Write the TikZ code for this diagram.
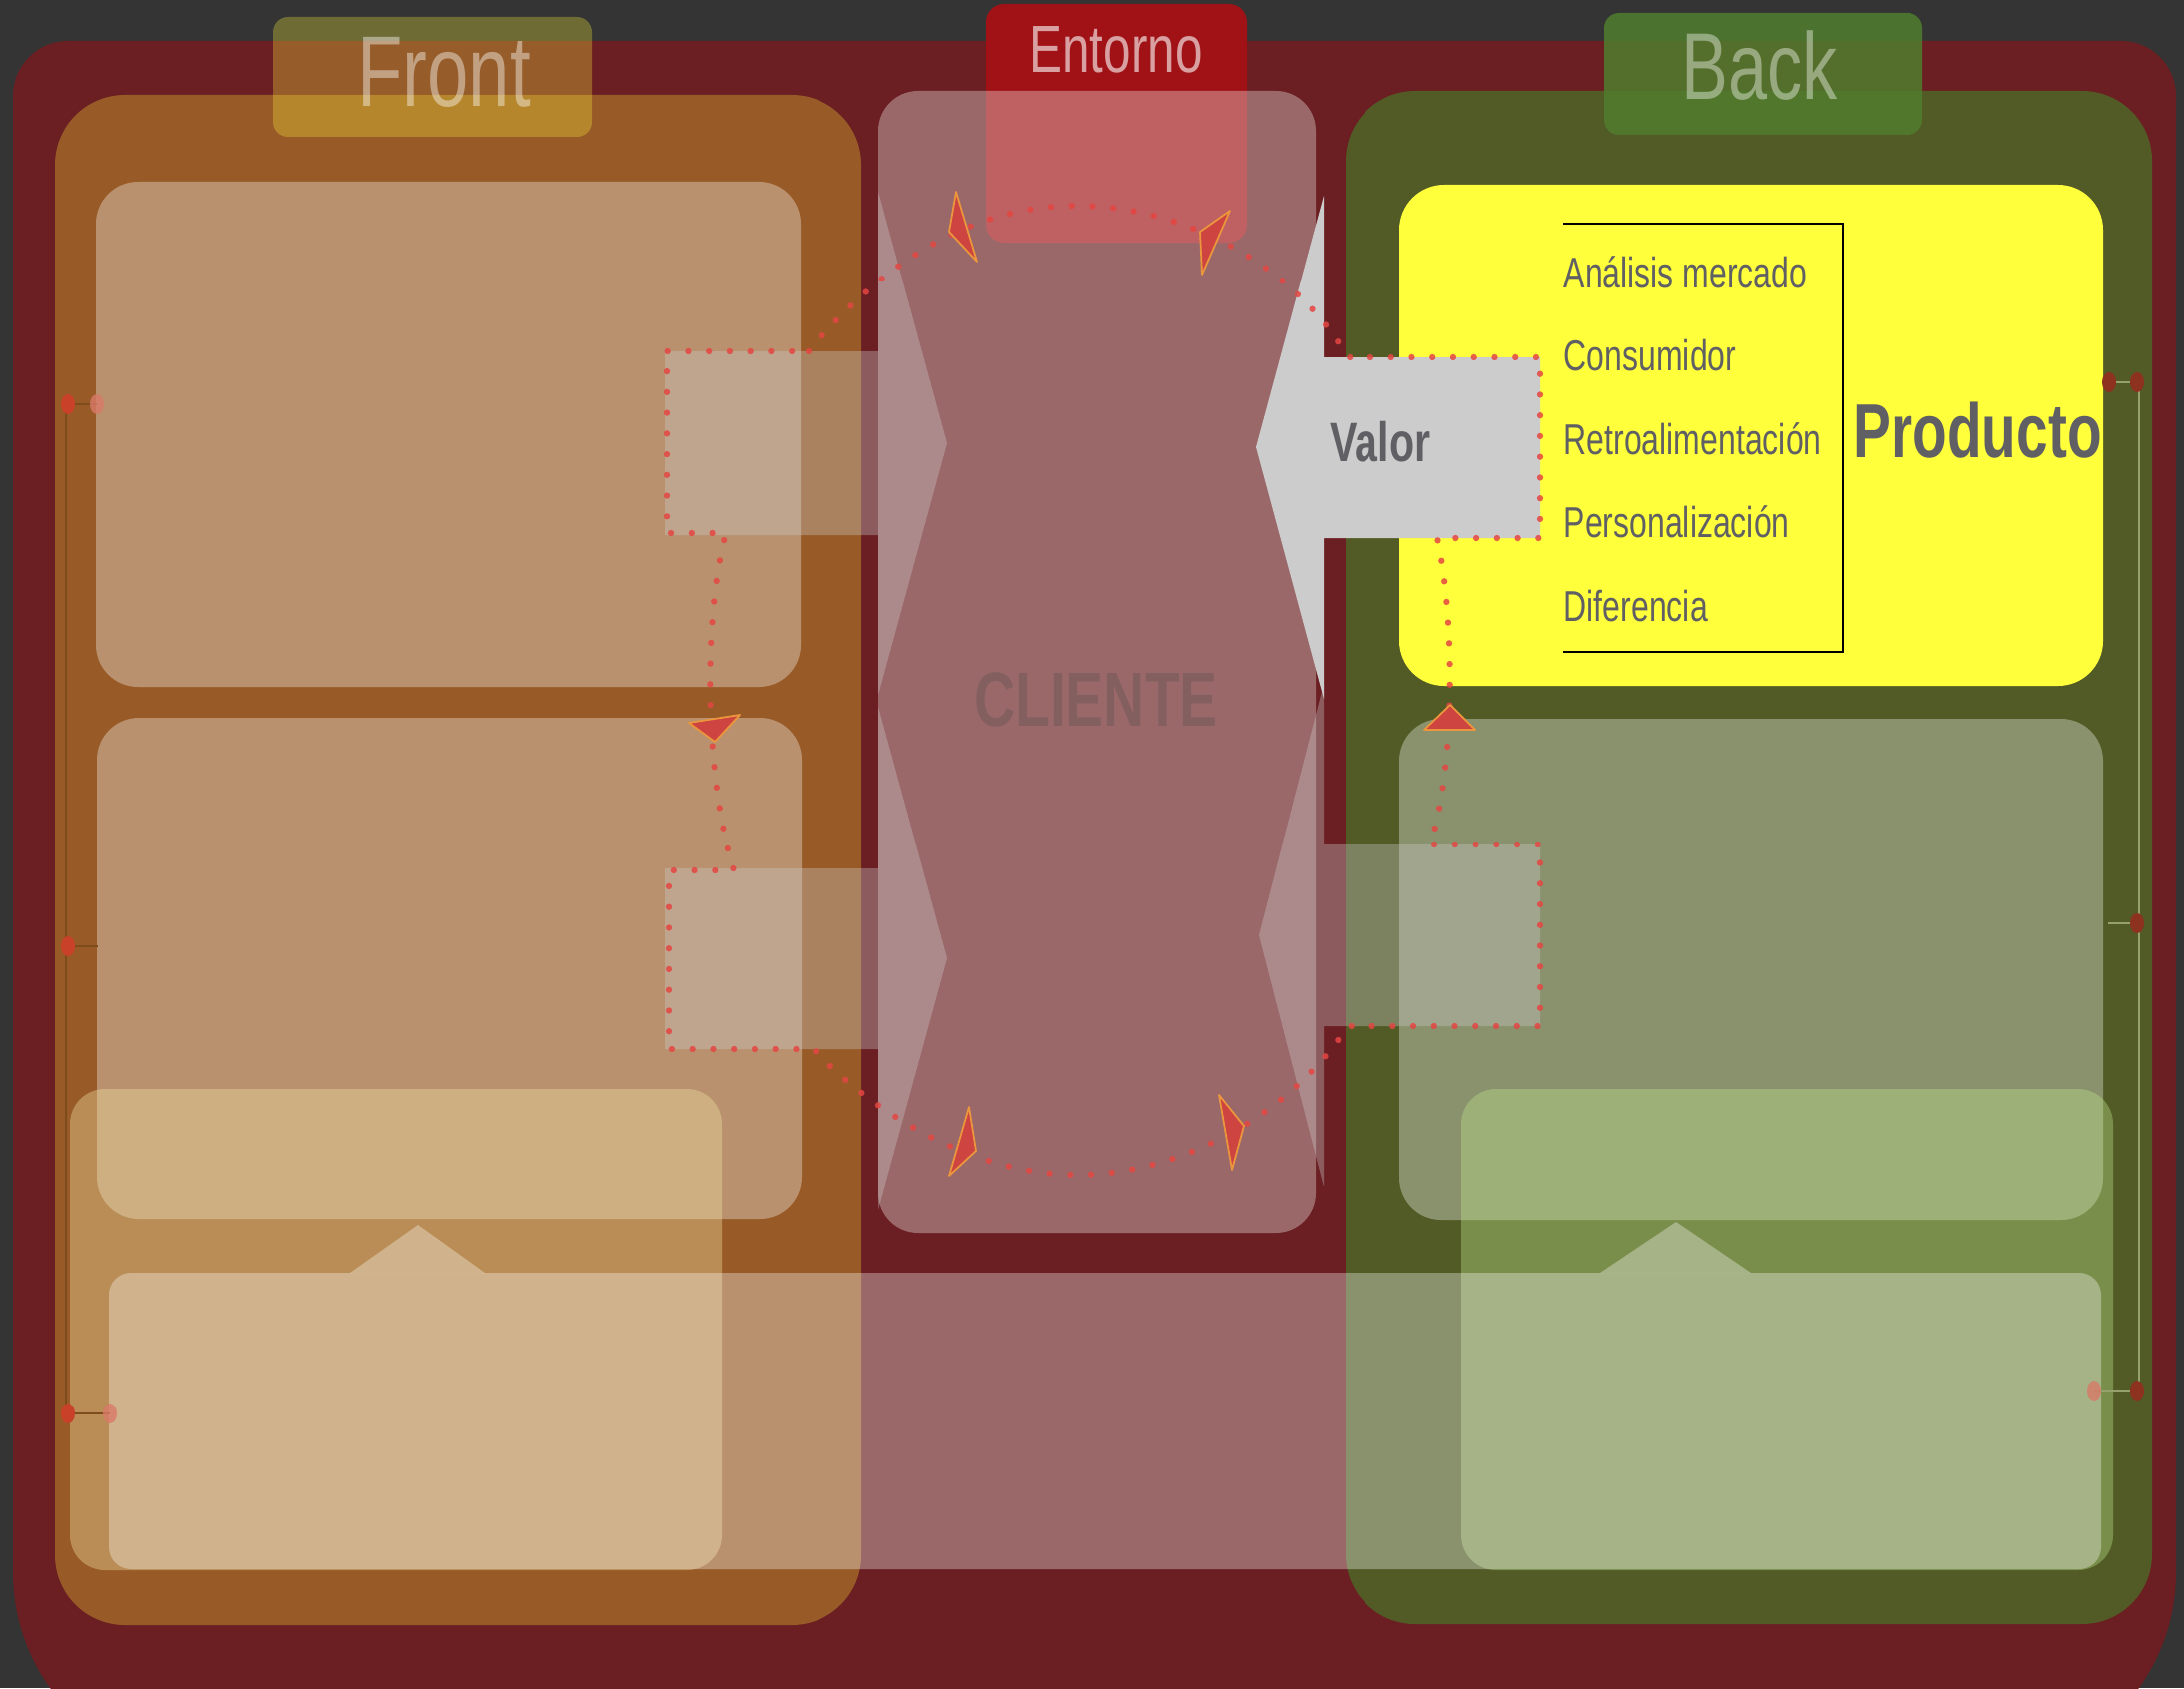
\documentclass[tikz,border=0pt]{standalone}
\usepackage{fontspec}
\setmainfont{Liberation Sans}[FakeStretch=0.74]
\definecolor{bgdark}{RGB}{52,52,52}
\definecolor{framered}{RGB}{107,31,34}
\definecolor{frontcol}{RGB}{152,91,39}
\definecolor{backcol}{RGB}{82,91,38}
\definecolor{entred}{RGB}{160,18,22}
\definecolor{fronttag}{RGB}{250,236,58}
\definecolor{backtag}{RGB}{80,125,45}
\definecolor{prodyellow}{RGB}{255,255,60}
\definecolor{arrowgray}{RGB}{204,204,204}
\definecolor{txtgray}{RGB}{96,96,100}
\definecolor{goldtint}{RGB}{240,225,160}
\definecolor{greentint}{RGB}{190,230,140}
\definecolor{loopred}{RGB}{228,70,66}
\definecolor{headred}{RGB}{205,68,64}
\definecolor{headline}{RGB}{235,150,60}
\definecolor{knobred}{RGB}{200,65,40}
\definecolor{knobdark}{RGB}{140,50,30}
\definecolor{sidebrown}{RGB}{125,75,28}
\definecolor{sidegreen}{RGB}{150,162,110}

\begin{document}
\begin{tikzpicture}[
  x=0.01cm, y=-0.01cm,
  veil/.style={fill=white, fill opacity=0.33},
  goldveil/.style={fill=goldtint, fill opacity=0.38},
  greenveil/.style={fill=greentint, fill opacity=0.37},
  ghost/.style={fill=arrowgray, fill opacity=0.35},
  tagtext/.style={text=white, anchor=base, inner sep=0pt},
  item/.style={font=\fontsize{12.3}{14}\selectfont, text=txtgray,
    anchor=base west, inner sep=0pt},
  dotloop/.style={draw=loopred, draw opacity=0.85, line width=1.8pt,
    line cap=round, dash pattern=on 0pt off 5.9pt},
  tiphead/.style={fill=headred, draw=headline, line width=0.5pt,
    line join=round},
  knob/.style={fill=knobred},
  knobsoft/.style={fill=knobred!70!white, fill opacity=0.8},
]
  \useasboundingbox (0,0) rectangle (2188,1691);
  \fill[bgdark] (0,0) rectangle (2188,1691);
  \clip (0,0) rectangle (2188,1691);

  %% Frame and columns
  \fill[framered] (13,800) [rounded corners=0.55cm] -- (13,41) -- (2180,41)
    -- (2180,800) [rounded corners=2cm] -- (2180,1775) -- (13,1775) -- cycle;
  \fill[entred, rounded corners=0.18cm] (988,4) rectangle (1249,243);
  \fill[frontcol, rounded corners=0.7cm] (55,95) rectangle (863,1628);
  \fill[backcol, rounded corners=0.7cm] (1348,91) rectangle (2156,1627);
  \fill[veil, rounded corners=0.4cm] (880,91) rectangle (1318,1235);

  %% Boxes
  \fill[veil, rounded corners=0.42cm] (96,182) rectangle (802,688);
  \fill[veil, rounded corners=0.42cm] (97,719) rectangle (803,1221);
  \fill[veil, rounded corners=0.42cm] (1402,720) rectangle (2107,1222);
  \fill[prodyellow, rounded corners=0.45cm] (1402,185) rectangle (2107,687);

  \fill[goldveil, rounded corners=0.35cm] (70,1091) rectangle (723,1573);
  \fill[greenveil, rounded corners=0.35cm] (1464,1091) rectangle (2117,1573);

  % band with its two notches
  \fill[veil, rounded corners=0.22cm] (109,1275) rectangle (2105,1572);
  \fill[veil] (351,1275) -- (419,1227) -- (486,1275) -- cycle;
  \fill[veil] (1603,1275) -- (1679,1224) -- (1754,1275) -- cycle;

  %% Arrows
  \fill[ghost] (666,352) -- (880,352) -- (880,192) -- (949,444) -- (880,696)
    -- (880,536) -- (666,536) -- cycle;
  \fill[ghost] (666,870) -- (880,870) -- (880,708) -- (949,960) -- (880,1212)
    -- (880,1051) -- (666,1051) -- cycle;
  \fill[ghost] (1543,846) -- (1326,846) -- (1326,685) -- (1261,937)
    -- (1326,1189) -- (1326,1028) -- (1543,1028) -- cycle;
  \fill[arrowgray] (1543,358) -- (1326,358) -- (1326,196) -- (1258,448)
    -- (1326,700) -- (1326,539) -- (1543,539) -- cycle;

  %% Tags
  \fill[fronttag, fill opacity=0.3, rounded corners=0.15cm]
    (274,17) rectangle (593,137);
  \fill[backtag, fill opacity=0.85, rounded corners=0.15cm]
    (1607,13) rectangle (1926,135);
  \node[tagtext, text opacity=0.42, font=\fontsize{28.6}{30}\selectfont]
    (front) at (445,107) {Front};
  \node[tagtext, text opacity=0.4, font=\fontsize{27}{30}\selectfont]
    (back) at (1763,100) {Back};
  \node[tagtext, text opacity=0.6, font=\fontsize{19}{22}\selectfont]
    (entorno) at (1118,73) {Entorno};

  %% Texts
  \node[anchor=base, inner sep=0pt, text=black!70, text opacity=0.3,
    font=\bfseries\fontsize{21.9}{24}\selectfont] (cliente) at (1098,727) {CLIENTE};
  \node[anchor=base west, inner sep=0pt, text=txtgray,
    font=\bfseries\fontsize{15.8}{18}\selectfont] (valor) at (1332,462) {Valor};
  \node[anchor=base west, inner sep=0pt, text=txtgray,
    font=\bfseries\fontsize{21.8}{24}\selectfont] (producto) at (1856,458) {Producto};
  \foreach \t [count=\i from 0] in {Análisis mercado, Consumidor,
      Retroalimentación, Personalización, Diferencia}
    \node[item] (it\i) at (1566,288+83.5*\i) {\t};
  \draw[line width=0.6pt] (1566,224) -- (1846,224) -- (1846,653) -- (1566,653);

  %% Dotted cycle
  \coordinate (ltTL) at (668,352);  \coordinate (ltBL) at (668,534);
  \coordinate (lbTL) at (670,872);  \coordinate (lbBL) at (670,1051);
  \coordinate (vaTR) at (1543,358); \coordinate (vaBR) at (1543,539);
  \coordinate (rbTR) at (1543,846); \coordinate (rbBR) at (1543,1028);
  \draw[dotloop] (810,352) .. controls (870,280) and (960,206) .. (1078,206)
    .. controls (1190,206) and (1300,270) .. (1350,358) -- (vaTR) -- (vaBR)
    -- (1440,539) .. controls (1458,620) and (1458,770) .. (1433,846)
    -- (rbTR) -- (rbBR) -- (1350,1028)
    .. controls (1290,1120) and (1180,1177) .. (1079,1177)
    .. controls (970,1177) and (870,1110) .. (815,1051) -- (lbBL) -- (lbTL)
    -- (735,872) .. controls (706,780) and (704,620) .. (727,534)
    -- (ltBL) -- (ltTL) -- cycle;

  \fill[tiphead] (958,192) -- (951,232) -- (979,262) -- cycle;
  \fill[tiphead] (1232,211) -- (1202,232) -- (1204,275) -- cycle;
  \fill[tiphead] (971,1109) -- (978,1153) -- (951,1178) -- cycle;
  \fill[tiphead] (1221,1097) -- (1246,1128) -- (1234,1172) -- cycle;
  \fill[tiphead] (690,724) -- (741,716) -- (716,743) -- cycle;
  \fill[tiphead] (1427,731) -- (1453,706) -- (1478,731) -- cycle;

  %% Side connectors
  \draw[sidebrown, line width=0.6pt] (66,405) -- (66,1416);
  \foreach \y/\x in {405/97, 948/98, 1416/110}
    \draw[sidebrown, line width=0.6pt] (68,\y) -- (\x,\y);
  \foreach \y in {405,948,1416}
    \fill[knob] (68,\y) ellipse [x radius=0.07cm, y radius=0.1cm];
  \foreach \y/\x in {405/97, 1416/110}
    \fill[knobsoft] (\x,\y) ellipse [x radius=0.07cm, y radius=0.1cm];

  \draw[sidegreen, line width=0.6pt] (2143,383) -- (2143,1393);
  \foreach \y/\x in {383/2113, 925/2112, 1393/2098}
    \draw[sidegreen, line width=0.6pt] (2141,\y) -- (\x,\y);
  \foreach \y in {383,925,1393}
    \fill[knobdark] (2141,\y) ellipse [x radius=0.07cm, y radius=0.1cm];
  \fill[knobdark] (2113,383) ellipse [x radius=0.07cm, y radius=0.1cm];
  \fill[knobsoft] (2098,1393) ellipse [x radius=0.07cm, y radius=0.1cm];
\end{tikzpicture}
\end{document}
